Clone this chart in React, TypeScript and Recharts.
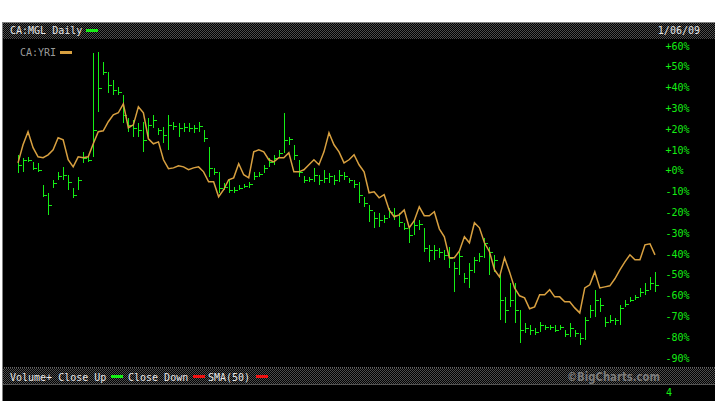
import React from 'react';
import { ComposedChart, Bar, Line, XAxis, YAxis } from 'recharts';

// CA:YRI comparison line, % change (~2 sessions per point)
const yri = [
  3.8, 12.5, 18.8, 11.1, 6.7, 6.3, 7.7, 10.1, 15.9, 14.9,
  5.3, 1.9, 6.7, 6.3, 6.7, 13.0, 18.8, 19.2, 23.6, 26.9,
  27.9, 32.2, 20.7, 22.1, 30.8, 27.9, 15.4, 13.0, 13.9, 5.3,
  1.0, 1.4, 2.4, 1.9, 0.5, 1.4, 1.9, -0.5, -5.3, -5.3,
  -12.5, -9.1, -4.3, -3.4, 3.4, -1.9, -3.4, 9.1, 10.1, 9.1,
  5.3, 4.3, 6.3, 6.3, 8.7, -0.5, -0.5, 0.5, 2.9, 5.3,
  2.9, 9.1, 18.3, 12.5, 9.1, 3.8, 5.3, 7.7, 2.9, -0.5,
  -10.6, -10.1, -13.0, -11.5, -18.8, -22.1, -21.2, -18.8, -27.4, -24.0,
  -17.3, -21.6, -21.6, -19.7, -27.9, -31.7, -41.8, -41.8, -38.5, -31.7,
  -34.6, -25.0, -27.4, -34.6, -38.9, -47.6, -51.0, -41.8, -48.6, -56.3,
  -60.1, -61.1, -66.3, -65.4, -59.6, -59.6, -57.2, -60.6, -60.6, -63.0,
  -63.0, -65.9, -68.3, -56.3, -54.8, -48.6, -56.3, -55.8, -55.3, -51.9,
  -47.6, -43.8, -40.4, -42.8, -42.8, -35.6, -35.1, -40.4,
];

// CA:MGL daily bars: high / low / close, % change
const mglHigh = [
  7.7, 6.3, 6.7, 4.3, 3.8, -6.7, -10.6, -4.3, -0.5, 1.9,
  -1.9, -8.2, -2.9, 9.1, 7.7, 56.7, 57.2, 52.4, 47.6, 43.8,
  40.4, 36.5, 25.5, 24.5, 23.1, 23.6, 25.5, 26.9, 20.7, 21.2,
  26.9, 23.6, 23.1, 23.1, 23.1, 22.1, 23.6, 19.7, 11.5, 1.4,
  -0.5, -5.8, -4.3, -7.7, -6.7, -6.3, -5.3, -0.5, -0.5, 2.9,
  6.3, 7.7, 10.1, 27.9, 16.3, 12.5, 5.3, -2.4, -2.9, 1.4,
  -1.9, 0.5, -1.0, -1.9, 0.5, -0.5, -3.4, -4.3, -5.3, -12.5,
  -16.3, -19.7, -20.2, -21.2, -17.8, -17.8, -20.2, -25.0, -27.4, -23.6,
  -23.6, -27.4, -35.6, -35.6, -37.0, -38.0, -36.5, -43.8, -38.9, -49.0,
  -44.2, -41.3, -39.4, -32.2, -36.5, -40.4, -49.0, -60.6, -53.8, -53.8,
  -66.8, -73.1, -74.0, -75.5, -72.6, -74.0, -74.0, -74.0, -74.0, -76.4,
  -73.1, -76.4, -77.9, -70.2, -64.4, -57.2, -61.1, -70.2, -69.2, -70.7,
  -64.4, -62.0, -60.6, -59.6, -56.3, -53.8, -51.0, -48.6,
];

const mglLow = [
  -1.0, -0.5, 4.3, 0.5, -0.5, -12.5, -21.2, -8.2, -4.3, -4.3,
  -9.1, -13.0, -9.1, 3.8, 4.3, 6.7, 28.4, 46.2, 37.5, 36.5,
  36.5, 23.1, 18.8, 16.3, 16.3, 9.1, 15.9, 20.7, 17.3, 13.5,
  10.1, 19.7, 16.3, 18.8, 18.8, 18.3, 18.8, 13.9, -2.9, -1.9,
  -10.6, -9.1, -10.6, -10.6, -9.1, -8.2, -8.2, -4.3, -2.9, -1.0,
  1.9, 2.9, 6.3, 8.7, 12.5, 5.3, -2.9, -5.8, -5.3, -5.3,
  -6.7, -5.8, -5.8, -6.7, -5.3, -4.3, -5.8, -8.2, -15.4, -17.3,
  -24.5, -27.4, -26.9, -25.0, -22.6, -23.6, -26.9, -28.4, -34.6, -30.8,
  -28.4, -38.9, -43.8, -42.8, -41.8, -42.8, -46.6, -58.2, -50.0, -53.8,
  -56.3, -49.0, -43.8, -41.8, -50.0, -48.6, -71.6, -73.1, -65.4, -73.1,
  -82.7, -77.9, -78.8, -78.8, -77.4, -76.4, -76.4, -77.4, -76.4, -79.8,
  -79.8, -79.8, -83.7, -81.3, -70.7, -70.2, -67.8, -75.0, -73.1, -74.0,
  -74.0, -65.4, -63.0, -62.0, -60.6, -59.6, -57.2, -58.2,
];

const mglClose = [
  2.9, 5.3, 5.3, 1.4, 0.5, -11.5, -16.3, -5.8, -2.4, -1.9,
  -5.3, -11.5, -4.3, 6.3, 5.3, 19.7, 39.9, 47.6, 41.3, 38.9,
  38.0, 26.9, 22.1, 20.7, 19.7, 14.9, 22.1, 24.5, 19.7, 17.3,
  22.1, 21.6, 20.7, 21.2, 20.7, 20.7, 21.6, 15.9, 1.4, -0.5,
  -8.2, -7.7, -9.1, -9.1, -8.2, -7.2, -6.3, -2.4, -1.4, 1.4,
  4.3, 6.3, 8.7, 14.9, 15.4, 7.7, -0.5, -4.3, -3.8, -1.9,
  -4.3, -3.4, -2.4, -4.3, -1.9, -2.4, -4.3, -6.3, -11.5, -15.4,
  -18.8, -22.6, -23.6, -22.6, -19.7, -21.2, -24.5, -27.4, -30.8, -26.0,
  -25.5, -37.0, -38.0, -38.0, -38.9, -40.4, -41.8, -46.6, -40.9, -51.4,
  -47.6, -42.8, -40.9, -34.6, -38.9, -42.8, -62.0, -66.8, -62.0, -66.8,
  -76.4, -75.5, -76.4, -77.4, -74.0, -75.0, -75.0, -76.4, -75.0, -78.4,
  -75.5, -77.9, -80.3, -71.6, -66.8, -62.0, -64.4, -72.6, -71.6, -71.6,
  -65.9, -63.9, -62.0, -60.6, -58.2, -57.2, -53.8, -54.8,
];

const pctTicks = [60, 50, 40, 30, 20, 10, 0, -10, -20, -30, -40, -50, -60, -70, -80, -90];

const GREEN = '#14ee14';
const ORANGE = '#d8a040';
const RED = '#ee1010';
const MONO = '"DejaVu Sans Mono", monospace';

const data = yri.map((v, i) => ({
  day: i,
  yri: v,
  range: [mglLow[i], mglHigh[i]],
  high: mglHigh[i],
  low: mglLow[i],
  close: mglClose[i],
}));

// vertical high-low line with a close tick on the right
const HlcBar = (props: any) => {
  const { x, y, width, height, payload } = props;
  if (x == null || y == null || !payload) return null;
  const top = Math.min(y, y + height);
  const h = Math.max(Math.abs(height), 1);
  const cx = Math.round(x + width / 2) + 0.5;
  const span = payload.high - payload.low;
  const cy = Math.round(top + (span ? (h * (payload.high - payload.close)) / span : 0)) + 0.5;
  return (
    <g shapeRendering="crispEdges">
      <line x1={cx} x2={cx} y1={top} y2={top + h} stroke={GREEN} strokeWidth={1} />
      <line x1={cx} x2={cx + 3} y1={cy} y2={cy} stroke={GREEN} strokeWidth={1} />
    </g>
  );
};

const fmt = (v: number) => (v >= 0 ? '+' : '') + v + '%';

const Chrome = () => (
  <svg width={715} height={401} style={{ position: 'absolute', left: 0, top: 0 }}>
    <defs>
      <pattern id="chk" width={2} height={2} patternUnits="userSpaceOnUse">
        <rect width={2} height={2} fill="#000" />
        <rect width={1} height={1} fill="#4c4c4c" />
        <rect x={1} y={1} width={1} height={1} fill="#4c4c4c" />
      </pattern>
      <pattern id="dots" width={2} height={1} patternUnits="userSpaceOnUse">
        <rect width={2} height={1} fill="#000" />
        <rect width={1} height={1} fill="#666" />
      </pattern>
    </defs>
    <rect width={715} height={401} fill="#fff" />
    <rect x={2} y={22} width={713} height={1} fill="#808080" />
    <rect x={2} y={22} width={1} height={379} fill="#808080" />
    <rect x={3} y={23} width={712} height={16} fill="url(#chk)" />
    <rect x={3} y={39} width={712} height={328} fill="#000" />
    <rect x={3} y={367} width={712} height={1} fill="url(#dots)" />
    <rect x={3} y={368} width={712} height={16} fill="url(#chk)" />
    <rect x={3} y={384} width={712} height={1} fill="#555" />
    <rect x={3} y={385} width={712} height={16} fill="#000" />

    <g fontFamily={MONO} fontSize={10}>
      <text x={10} y={34} fill="#e6e6e6">CA:MGL Daily</text>
      <rect x={86} y={29} width={12} height={3} fill={GREEN} />
      <text x={700} y={34} fill="#e6e6e6" textAnchor="end">1/06/09</text>

      <text x={20} y={56} fill="#9a9a9a">CA:YRI</text>
      <rect x={60} y={51} width={12} height={3} fill={ORANGE} />

      <text x={10} y={381} fill="#e6e6e6">Volume+ Close Up</text>
      <rect x={111} y={375} width={12} height={3} fill={GREEN} />
      <text x={128} y={381} fill="#e6e6e6">Close Down</text>
      <rect x={193} y={375} width={12} height={3} fill={RED} />
      <text x={208} y={381} fill="#e6e6e6">SMA(50)</text>
      <rect x={256} y={375} width={12} height={3} fill={RED} />

      <text x={666} y={396} fill={GREEN}>4</text>
    </g>
    <text x={567} y={381} fill="#7a7a7a" fontFamily='"DejaVu Sans", sans-serif' fontWeight="bold" fontSize={12} textLength={93} lengthAdjust="spacingAndGlyphs">
      ©BigCharts.com
    </text>
  </svg>
);

export default function App() {
  return (
    <div style={{ position: 'fixed', left: 0, top: 0, width: 715, height: 401, overflow: 'hidden' }}>
      <Chrome />
      <div style={{ position: 'absolute', left: 0, top: 39 }}>
        <ComposedChart width={715} height={328} data={data} margin={{ top: 7, right: 0, bottom: 9, left: 15.5 }}>
          <XAxis dataKey="day" hide />
          <YAxis
            orientation="right"
            domain={[-90, 60]}
            ticks={pctTicks}
            interval={0}
            allowDataOverflow
            axisLine={false}
            tickLine={false}
            width={57.5}
            tickFormatter={fmt}
            tick={{ fill: GREEN, fontSize: 10, fontFamily: MONO, textAnchor: 'start' }}
          />
          <Bar dataKey="range" shape={<HlcBar />} isAnimationActive={false} />
          <Line type="linear" dataKey="yri" stroke={ORANGE} strokeWidth={1.5} dot={false} isAnimationActive={false} />
        </ComposedChart>
      </div>
    </div>
  );
}
